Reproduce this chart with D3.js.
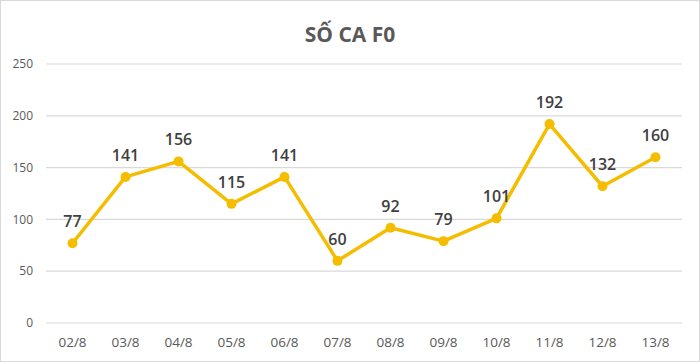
<!DOCTYPE html>
<html><head><meta charset="utf-8">
<script src="https://cdn.jsdelivr.net/npm/d3@7"></script>
<style>body{margin:0;background:#fff}svg{display:block}</style>
</head><body>
<script>
const categories = ["02/8","03/8","04/8","05/8","06/8","07/8","08/8","09/8","10/8","11/8","12/8","13/8"];
const values = [77,141,156,115,141,60,92,79,101,192,132,160];
const yTicks = [0,50,100,150,200,250];
const title = "SỐ CA F0";

const W=700,H=362;
const svg=d3.select("body").append("svg").attr("width",W).attr("height",H);
svg.append("rect").attr("x",0.5).attr("y",0.5).attr("width",W-1).attr("height",H-1).attr("fill","#fff").attr("stroke","#d9d9d9");
const font="'Open Sans', 'Liberation Sans', sans-serif";
const x=d3.scaleBand().domain(categories).range([46,682]);
const cx=d=>x(d)+x.bandwidth()/2;
const y=d3.scaleLinear().domain([0,250]).range([323,64]);
const g=svg.append("g");
g.selectAll("line.grid").data(yTicks).join("line").attr("x1",46).attr("x2",682)
 .attr("y1",d=>y(d)).attr("y2",d=>y(d)).attr("stroke","#d9d9d9").attr("stroke-width",1.2);
g.selectAll("text.yl").data(yTicks).join("text").attr("x",33).attr("y",d=>y(d)).attr("dy","0.35em")
 .attr("text-anchor","end").attr("font-family",font).attr("font-size",12).attr("fill","#595959").text(d=>d);
g.selectAll("text.xl").data(categories).join("text").attr("x",d=>cx(d)).attr("y",347)
 .attr("text-anchor","middle").attr("font-family",font).attr("font-size",13.5).attr("fill","#595959").text(d=>d);
svg.append("text").attr("x",350).attr("y",42).attr("text-anchor","middle").attr("font-family",font)
 .attr("font-size",21).attr("font-weight","bold").attr("fill","#595959").text(title);
const line=d3.line().x((d,i)=>cx(categories[i])).y(d=>y(d));
svg.append("path").datum(values).attr("d",line).attr("fill","none").attr("stroke","#F5BD00").attr("stroke-width",3.5).attr("stroke-linejoin","round");
svg.selectAll("circle").data(values).join("circle").attr("cx",(d,i)=>cx(categories[i])).attr("cy",d=>y(d)).attr("r",5).attr("fill","#F5BD00");
svg.selectAll("text.lab").data(values).join("text").attr("x",(d,i)=>cx(categories[i])).attr("y",d=>y(d)-16)
 .attr("text-anchor","middle").attr("font-family",font).attr("font-size",16).attr("font-weight",600).attr("fill","#404040").text(d=>d);
</script>
</body></html>
